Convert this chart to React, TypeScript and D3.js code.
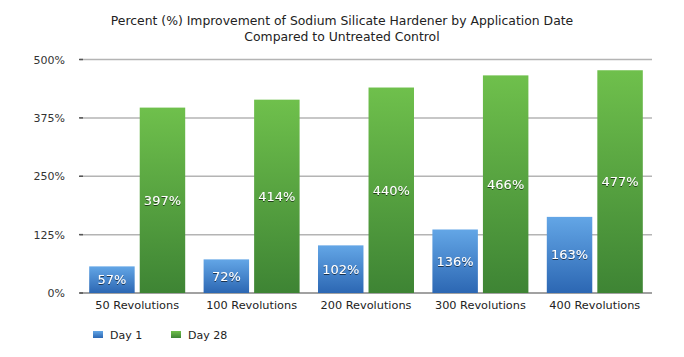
import React from "react";
import * as d3 from "d3";

const categories = ["50 Revolutions", "100 Revolutions", "200 Revolutions", "300 Revolutions", "400 Revolutions"];
const seriesNames = ["Day 1", "Day 28"];
const day1 = [57, 72, 102, 136, 163];
const day28 = [397, 414, 440, 466, 477];
const yTicks = [0, 125, 250, 375, 500];
const titleLines = [
  "Percent (%) Improvement of Sodium Silicate Hardener by Application Date",
  "Compared to Untreated Control",
];

const W = 684;
const H = 357;
const left = 80;
const right = 652;
const top = 59.5;
const bottom = 293;
const font = "'DejaVu Sans', Arial, Helvetica, sans-serif";

export default function App() {
  const x = d3.scaleBand<string>().domain(categories).range([left, right]).paddingInner(0).paddingOuter(0);
  const inner = d3.scaleBand<string>().domain(seriesNames).range([0, 96]).paddingInner(0.1);
  const y = d3.scaleLinear().domain([0, 500]).range([bottom, top]);
  const series = [day1, day28];
  const colors = [
    ["#63a6e6", "#2c67b3"],
    ["#6fc04c", "#3e8434"],
  ];
  return (
    <div style={{ position: "fixed", left: 0, top: 0 }}>
      <svg width={W} height={H} style={{ display: "block", background: "#fff" }}>
        <defs>
          {colors.map((c, i) => (
            <linearGradient key={i} id={`g${i}`} x1="0" y1="0" x2="0" y2="1">
              <stop offset="0%" stopColor={c[0]} />
              <stop offset="100%" stopColor={c[1]} />
            </linearGradient>
          ))}
          <filter id="ts" x="-20%" y="-20%" width="140%" height="140%">
            <feDropShadow dx="0" dy="1" stdDeviation="0.6" floodColor="#000" floodOpacity="0.6" />
          </filter>
        </defs>
        {titleLines.map((t, i) => (
          <text key={i} x={342} y={24.5 + i * 16} textAnchor="middle" fontFamily={font} fontSize={12.4} fill="#222">
            {t}
          </text>
        ))}
        {yTicks.map((t) => (
          <g key={t}>
            <line x1={left} x2={right} y1={y(t)} y2={y(t)} stroke={t === 0 ? "#444" : "#b4b4b4"} strokeWidth={t === 0 ? 1.2 : 1.5} />
            <line x1={left - 1} x2={left + 3} y1={y(t)} y2={y(t)} stroke="#555" strokeWidth={1.5} />
            <text x={65} y={y(t) + 4} textAnchor="end" fontFamily={font} fontSize={11} fill="#333">
              {t}%
            </text>
          </g>
        ))}
        {categories.map((c, ci) => {
          const gx = x(c)! + (x.bandwidth() - 96) / 2;
          return (
            <g key={c}>
              {series.map((s, si) => {
                const bx = gx + inner(seriesNames[si])!;
                const bw = inner.bandwidth();
                const by = y(s[ci]);
                return (
                  <g key={si}>
                    <rect x={bx} y={by} width={bw} height={bottom - by} fill={`url(#g${si})`} />
                    <text
                      x={bx + bw / 2}
                      y={(by + bottom) / 2 + 4.5}
                      textAnchor="middle"
                      fontFamily={font}
                      fontSize={13}
                      fill="#fff"
                      filter="url(#ts)"
                    >
                      {s[ci]}%
                    </text>
                  </g>
                );
              })}
              <text x={x(c)! + x.bandwidth() / 2} y={309} textAnchor="middle" fontFamily={font} fontSize={11.3} fill="#222">
                {c}
              </text>
            </g>
          );
        })}
        {seriesNames.map((n, i) => {
          const lx = i === 0 ? 93 : 171;
          return (
            <g key={n}>
              <rect x={lx} y={331} width={10} height={7} fill={`url(#g${i})`} />
              <text x={lx + 17} y={339} fontFamily={font} fontSize={11} fill="#222">
                {n}
              </text>
            </g>
          );
        })}
      </svg>
    </div>
  );
}
